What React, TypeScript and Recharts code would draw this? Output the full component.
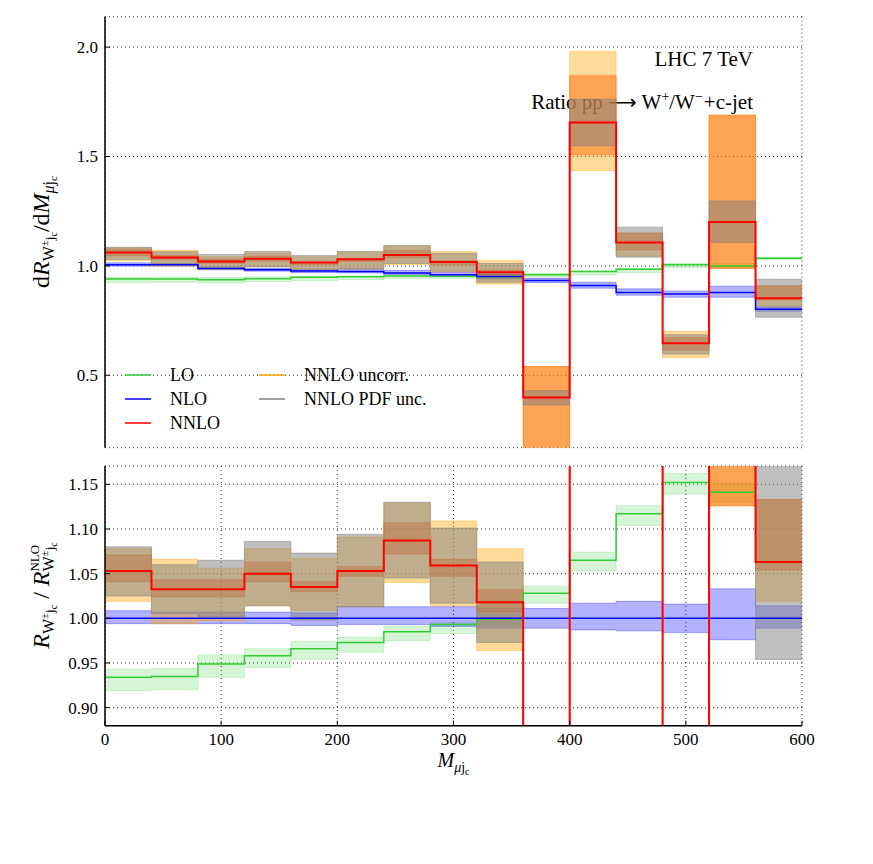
import React from 'react';
import { ComposedChart, Area, Line, XAxis, YAxis, CartesianGrid, Customized } from 'recharts';

const FONT = '"Liberation Serif", "DejaVu Serif", serif';

// bins of M_{mu jc}
const binStarts = [0, 40, 80, 120, 160, 200, 240, 280, 320, 360, 400, 440, 480, 520, 560];
const xEnd = 600;
const xTicks = [0, 100, 200, 300, 400, 500, 600];
const topYTicks = [0.5, 1.0, 1.5, 2.0];
const bottomYTicks = [0.9, 0.95, 1.0, 1.05, 1.1, 1.15];

// ---------- top panel: dR/dM ----------
const loTop = [0.940, 0.940, 0.937, 0.941, 0.948, 0.950, 0.954, 0.953, 0.950, 0.959, 0.974, 0.985, 1.005, 1.000, 1.035];
const loTopLow = [0.924, 0.925, 0.923, 0.928, 0.932, 0.937, 0.943, 0.944, 0.943, 0.949, 0.958, 0.969, 0.992, 0.992, 1.028];
const loTopHigh = [0.948, 0.949, 0.947, 0.949, 0.952, 0.954, 0.958, 0.955, 0.955, 0.967, 0.977, 0.989, 1.012, 1.011, 1.040];

const nloTop = [1.005, 1.005, 0.988, 0.982, 0.977, 0.974, 0.967, 0.960, 0.951, 0.933, 0.910, 0.878, 0.871, 0.878, 0.802];
const nloTopLow = [0.999, 0.999, 0.982, 0.976, 0.969, 0.968, 0.961, 0.951, 0.941, 0.923, 0.898, 0.866, 0.857, 0.857, 0.793];
const nloTopHigh = [1.014, 1.012, 0.995, 0.989, 0.983, 0.987, 0.980, 0.972, 0.961, 0.943, 0.925, 0.895, 0.885, 0.907, 0.813];

const nnloTop = [1.061, 1.038, 1.020, 1.033, 1.015, 1.030, 1.050, 1.018, 0.971, 0.398, 1.655, 1.107, 0.646, 1.201, 0.852];
const uncTopHigh = [1.083, 1.071, 1.043, 1.059, 1.042, 1.063, 1.092, 1.065, 1.025, 0.540, 1.980, 1.150, 0.700, 1.689, 0.909];
const uncTopLow = [1.024, 0.999, 0.985, 0.996, 0.986, 0.987, 1.006, 0.973, 0.917, 0.100, 1.436, 1.045, 0.581, 0.989, 0.817];
const scaleTopHigh = [1.076, 1.048, 1.030, 1.044, 1.017, 1.031, 1.070, 1.023, 0.981, 0.540, 1.869, 1.150, 0.672, 1.689, 0.909];
const scaleTopLow = [1.046, 1.029, 1.012, 1.022, 1.006, 1.020, 1.037, 1.005, 0.958, 0.100, 1.508, 1.073, 0.615, 0.989, 0.845];
const pdfTopHigh = [1.085, 1.065, 1.052, 1.066, 1.048, 1.066, 1.093, 1.057, 1.011, 0.430, 1.762, 1.177, 0.685, 1.297, 0.939];
const pdfTopLow = [1.030, 1.010, 0.990, 0.996, 0.975, 0.987, 1.011, 0.976, 0.925, 0.364, 1.549, 1.040, 0.597, 1.107, 0.765];

// ---------- bottom panel: ratio to NLO ----------
const loRatio = [0.934, 0.935, 0.949, 0.958, 0.966, 0.973, 0.985, 0.993, 0.999, 1.028, 1.065, 1.117, 1.152, 1.141, 1.290];
const loRatioLow = [0.919, 0.920, 0.934, 0.945, 0.954, 0.962, 0.975, 0.983, 0.992, 1.017, 1.053, 1.104, 1.139, 1.130, 1.280];
const loRatioHigh = [0.943, 0.944, 0.959, 0.966, 0.974, 0.979, 0.991, 0.995, 1.004, 1.036, 1.074, 1.126, 1.162, 1.152, 1.300];

const nloRatio = [1, 1, 1, 1, 1, 1, 1, 1, 1, 1, 1, 1, 1, 1, 1];
const nloRatioLow = [0.994, 0.994, 0.994, 0.994, 0.992, 0.993, 0.993, 0.991, 0.989, 0.989, 0.987, 0.986, 0.984, 0.976, 0.989];
const nloRatioHigh = [1.0085, 1.007, 1.007, 1.007, 1.006, 1.013, 1.013, 1.013, 1.011, 1.011, 1.017, 1.019, 1.016, 1.033, 1.014];

const nnloRatio = [1.053, 1.0325, 1.0325, 1.050, 1.035, 1.053, 1.087, 1.059, 1.018, 0.43, 1.82, 1.26, 0.74, 1.37, 1.063];
const uncRatioHigh = [1.078, 1.066, 1.056, 1.078, 1.067, 1.091, 1.129, 1.109, 1.078, 0.58, 2.18, 1.31, 0.80, 1.92, 1.133];
const uncRatioLow = [1.019, 0.994, 0.997, 1.014, 1.009, 1.013, 1.040, 1.014, 0.964, 0.11, 1.58, 1.19, 0.67, 1.126, 1.019];
const scaleRatioHigh = [1.071, 1.043, 1.043, 1.063, 1.041, 1.058, 1.107, 1.066, 1.032, 0.58, 2.05, 1.31, 0.77, 1.92, 1.133];
const scaleRatioLow = [1.041, 1.024, 1.024, 1.041, 1.030, 1.047, 1.072, 1.047, 1.007, 0.11, 1.66, 1.22, 0.71, 1.126, 1.054];
const pdfRatioHigh = [1.080, 1.060, 1.065, 1.086, 1.073, 1.094, 1.130, 1.101, 1.063, 0.46, 1.94, 1.34, 0.79, 1.48, 1.18];
const pdfRatioLow = [1.025, 1.005, 1.002, 1.014, 0.998, 1.013, 1.045, 1.017, 0.973, 0.39, 1.70, 1.184, 0.69, 1.26, 0.954];

const C_LO = '#32CD32';
const C_NLO = '#0000FF';
const C_NNLO = '#FF0000';
const C_UNC = '#FFA500';
const C_SCALE = '#FF6000';
const C_PDF = '#808080';

function buildRows(
  lines: Record<string, number[]>,
  bands: Record<string, [number[], number[]]>
) {
  const xs = [...binStarts, xEnd];
  return xs.map((x, k) => {
    const i = Math.min(k, binStarts.length - 1);
    const row: any = { x };
    for (const key in lines) row[key] = lines[key][i];
    for (const key in bands) row[key] = [bands[key][0][i], bands[key][1][i]];
    return row;
  });
}

const topRows = buildRows(
  { lo: loTop, nlo: nloTop, nnlo: nnloTop },
  {
    loBand: [loTopLow, loTopHigh],
    nloBand: [nloTopLow, nloTopHigh],
    uncBand: [uncTopLow, uncTopHigh],
    scaleBand: [scaleTopLow, scaleTopHigh],
    pdfBand: [pdfTopLow, pdfTopHigh],
  }
);

const bottomRows = buildRows(
  { lo: loRatio, nlo: nloRatio, nnlo: nnloRatio },
  {
    loBand: [loRatioLow, loRatioHigh],
    nloBand: [nloRatioLow, nloRatioHigh],
    uncBand: [uncRatioLow, uncRatioHigh],
    scaleBand: [scaleRatioLow, scaleRatioHigh],
    pdfBand: [pdfRatioLow, pdfRatioHigh],
  }
);

const axisLine = { stroke: '#000', strokeWidth: 1.5 };
const tickLine = { stroke: '#000', strokeWidth: 1 };

const makeYTick = (digits: number) => (props: any) => {
  const { x, y, payload } = props;
  return (
    <text x={x} y={y} dy="0.35em" textAnchor="end" fontSize={17} fontFamily={FONT} fill="#000">
      {Number(payload.value).toFixed(digits)}
    </text>
  );
};

const XTick = (props: any) => {
  const { x, y, payload } = props;
  return (
    <text x={x} y={y} dy="0.72em" textAnchor="middle" fontSize={17} fontFamily={FONT} fill="#000">
      {String(payload.value)}
    </text>
  );
};

function bandArea(key: string, color: string, op: number) {
  return (
    <Area
      key={key}
      type="stepAfter"
      dataKey={key}
      fill={color}
      fillOpacity={op}
      stroke={color}
      strokeOpacity={op}
      strokeWidth={1}
      dot={false}
      activeDot={false}
      isAnimationActive={false}
    />
  );
}

function stepLine(key: string, color: string, w: number) {
  return (
    <Line
      key={key}
      type="stepAfter"
      dataKey={key}
      stroke={color}
      strokeWidth={w}
      dot={false}
      activeDot={false}
      isAnimationActive={false}
    />
  );
}

function series() {
  return [
    bandArea('loBand', C_LO, 0.2),
    bandArea('nloBand', C_NLO, 0.3),
    bandArea('uncBand', C_UNC, 0.4),
    bandArea('scaleBand', C_SCALE, 0.45),
    bandArea('pdfBand', C_PDF, 0.5),
    stepLine('lo', C_LO, 1.5),
    stepLine('nlo', C_NLO, 1.5),
    stepLine('nnlo', C_NNLO, 2),
  ];
}

const TopOverlay = () => (
  <g fontFamily={FONT} fill="#000">
    <text x={745} y={57.7} textAnchor="end" fontSize={21}>LHC 7 TeV</text>
    <text x={745} y={101.3} textAnchor="end" fontSize={21}>
      Ratio pp<tspan dx={5} fontFamily='"DejaVu Sans", sans-serif' fontSize={20}>⟶</tspan>
      <tspan dx={5}>W</tspan>
      <tspan fontSize={14} dy={-8}>+</tspan>
      <tspan dy={8}>/W</tspan>
      <tspan fontSize={14} dy={-8}>−</tspan>
      <tspan dy={8} dx={1}>+c-jet</tspan>
    </text>
    {/* legend */}
    <g fontSize={18}>
      <line x1={117} x2={143} y1={367} y2={367} stroke={C_LO} strokeWidth={1.5} />
      <text x={162} y={373}>LO</text>
      <line x1={117} x2={143} y1={391} y2={391} stroke={C_NLO} strokeWidth={1.5} />
      <text x={162} y={397}>NLO</text>
      <line x1={117} x2={143} y1={415} y2={415} stroke={C_NNLO} strokeWidth={1.5} />
      <text x={162} y={421}>NNLO</text>
      <line x1={251} x2={277} y1={367} y2={367} stroke={C_UNC} strokeWidth={1.5} />
      <text x={296} y={373}>NNLO uncorr.</text>
      <line x1={251} x2={277} y1={391} y2={391} stroke={C_PDF} strokeWidth={1.5} />
      <text x={296} y={397}>NNLO PDF unc.</text>
    </g>
    {/* y label */}
    <text x={41} y={224} transform="rotate(-90 41 224)" textAnchor="middle" fontSize={24}>
      d<tspan fontStyle="italic">R</tspan>
      <tspan fontSize={16} dy={5}>W</tspan>
      <tspan fontSize={11} dy={-6}>±</tspan>
      <tspan fontSize={13} dy={6}>j</tspan>
      <tspan fontSize={10} dy={3}>c</tspan>
      <tspan dy={-8}>/d</tspan>
      <tspan fontStyle="italic">M</tspan>
      <tspan fontSize={16} fontStyle="italic" dy={5}>μ</tspan>
      <tspan fontSize={16}>j</tspan>
      <tspan fontSize={11} dy={3}>c</tspan>
    </text>
  </g>
);

const BottomOverlay = () => (
  <g fontFamily={FONT} fill="#000">
    <text x={41} y={137.5} transform="rotate(-90 41 137.5)" textAnchor="middle" fontSize={24}>
      <tspan fontStyle="italic">R</tspan>
      <tspan fontSize={16} dy={5}>W</tspan>
      <tspan fontSize={11} dy={-6}>±</tspan>
      <tspan fontSize={13} dy={6}>j</tspan>
      <tspan fontSize={10} dy={3}>c</tspan>
      <tspan dy={-8}> / </tspan>
      <tspan fontStyle="italic">R</tspan>
      <tspan fontSize={13} dy={-10}>NLO</tspan>
      <tspan fontSize={16} dx={-26.7} dy={15}>W</tspan>
      <tspan fontSize={11} dy={-6}>±</tspan>
      <tspan fontSize={13} dy={6}>j</tspan>
      <tspan fontSize={10} dy={3}>c</tspan>
    </text>
    <text x={445.5} y={309} textAnchor="middle" fontSize={20}>
      <tspan fontStyle="italic">M</tspan>
      <tspan fontSize={14} fontStyle="italic" dy={5}>μ</tspan>
      <tspan fontSize={14}>j</tspan>
      <tspan fontSize={10} dy={3}>c</tspan>
    </text>
  </g>
);

export default function App() {
  return (
    <div style={{ position: 'relative', width: 865, height: 848, background: '#fff', fontFamily: FONT }}>
      <div style={{ position: 'absolute', left: 0, top: 0 }}>
        <ComposedChart
          width={865}
          height={460}
          data={topRows}
          margin={{ top: 8.7, right: 71, bottom: 20.3, left: 37 }}
        >
          <CartesianGrid stroke="#000" strokeWidth={0.8} strokeDasharray="1 3" />
          {series()}
          <XAxis
            dataKey="x"
            type="number"
            domain={[0, 600]}
            ticks={xTicks}
            interval={0}
            height={0}
            tick={false}
            tickSize={-5}
            axisLine={axisLine}
            tickLine={tickLine}
            allowDataOverflow
          />
          <XAxis
            xAxisId="t"
            orientation="top"
            type="number"
            domain={[0, 600]}
            ticks={xTicks}
            interval={0}
            height={0}
            tick={false}
            tickSize={-5}
            axisLine={axisLine}
            tickLine={tickLine}
            allowDataOverflow
          />
          <YAxis
            type="number"
            domain={[0.169, 2.139]}
            ticks={topYTicks}
            interval={0}
            width={60}
            tickSize={-5}
            tickMargin={12}
            tick={makeYTick(1)}
            axisLine={axisLine}
            tickLine={tickLine}
            allowDataOverflow
          />
          <YAxis
            yAxisId="r"
            orientation="right"
            type="number"
            domain={[0.169, 2.139]}
            ticks={topYTicks}
            interval={0}
            width={0}
            tick={false}
            tickSize={-5}
            axisLine={axisLine}
            tickLine={tickLine}
            allowDataOverflow
          />
          <Customized component={TopOverlay} />
        </ComposedChart>
      </div>
      <div style={{ position: 'absolute', left: 0, top: 450 }}>
        <ComposedChart
          width={865}
          height={340}
          data={bottomRows}
          margin={{ top: 8, right: 71, bottom: 32.3, left: 37 }}
        >
          <CartesianGrid stroke="#000" strokeWidth={0.8} strokeDasharray="1 3" />
          {series()}
          <XAxis
            dataKey="x"
            type="number"
            domain={[0, 600]}
            ticks={xTicks}
            interval={0}
            height={40}
            tick={XTick}
            tickSize={-5}
            tickMargin={12}
            axisLine={axisLine}
            tickLine={tickLine}
            allowDataOverflow
          />
          <XAxis
            xAxisId="t"
            orientation="top"
            type="number"
            domain={[0, 600]}
            ticks={xTicks}
            interval={0}
            height={0}
            tick={false}
            tickSize={-5}
            axisLine={axisLine}
            tickLine={tickLine}
            allowDataOverflow
          />
          <YAxis
            type="number"
            domain={[0.8798, 1.1705]}
            ticks={bottomYTicks}
            interval={0}
            width={60}
            tickSize={-5}
            tickMargin={12}
            tick={makeYTick(2)}
            axisLine={axisLine}
            tickLine={tickLine}
            allowDataOverflow
          />
          <YAxis
            yAxisId="r"
            orientation="right"
            type="number"
            domain={[0.8798, 1.1705]}
            ticks={bottomYTicks}
            interval={0}
            width={0}
            tick={false}
            tickSize={-5}
            axisLine={axisLine}
            tickLine={tickLine}
            allowDataOverflow
          />
          <Customized component={BottomOverlay} />
        </ComposedChart>
      </div>
    </div>
  );
}
